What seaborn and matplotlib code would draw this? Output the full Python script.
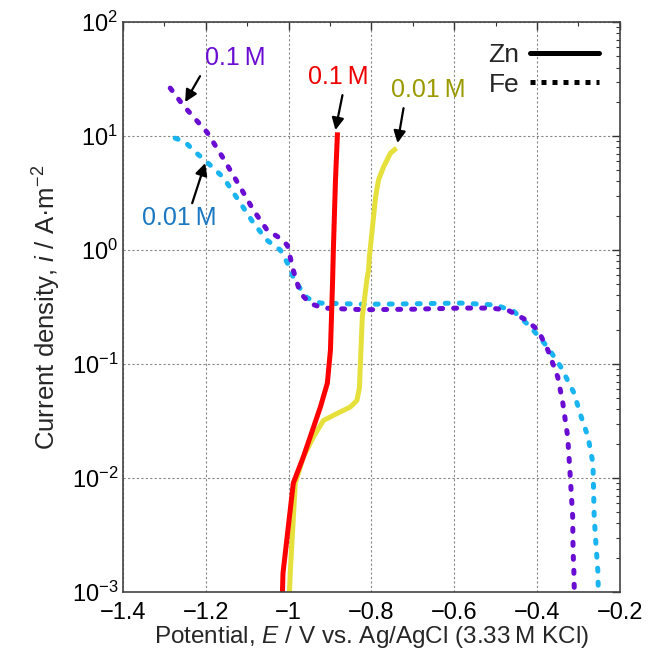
import numpy as np
import pandas as pd
import matplotlib
matplotlib.use("Agg")
import matplotlib.pyplot as plt
from matplotlib.lines import Line2D
from matplotlib.ticker import MultipleLocator, LogLocator, NullFormatter, FuncFormatter
import seaborn as sns

# Polarization curves: potential E (V vs. Ag/AgCl) and current density i (A/m^2)
fe_01_E = [-1.286, -1.255, -1.197, -1.158, -1.117, -1.085, -1.052, -1.025, -1.013,
           -1.003, -0.989, -0.972, -0.948, -0.916, -0.82, -0.70, -0.584, -0.512,
           -0.471, -0.432, -0.398, -0.374, -0.35, -0.338, -0.326, -0.319, -0.314,
           -0.313, -0.311, -0.310]
fe_01_i = [26.4, 18.7, 10.8, 6.4, 3.57, 2.24, 1.5, 1.3, 1.2,
           1.1, 0.67, 0.42, 0.34, 0.31, 0.30, 0.303, 0.31, 0.31,
           0.298, 0.25, 0.20, 0.133, 0.077, 0.046, 0.023, 0.0093, 0.0046,
           0.0023, 0.0015, 0.001]

fe_001_E = [-1.274, -1.25, -1.23, -1.197, -1.158, -1.117, -1.085, -1.052, -1.02,
            -1.003, -0.989, -0.972, -0.955, -0.923, -0.82, -0.70, -0.584, -0.50,
            -0.456, -0.415, -0.374, -0.343, -0.311, -0.294, -0.277, -0.265, -0.262,
            -0.258, -0.253, -0.252]
fe_001_i = [9.6, 8.9, 7.5, 5.9, 4.35, 2.6, 1.73, 1.22, 1.0,
            0.77, 0.58, 0.46, 0.38, 0.343, 0.335, 0.338, 0.343, 0.33,
            0.29, 0.21, 0.14, 0.095, 0.056, 0.035, 0.023, 0.0135, 0.0046,
            0.0027, 0.0015, 0.001]

zn_01_E = [-1.015, -1.0136, -0.9887, -0.9645, -0.9233, -0.9065, -0.899, -0.894,
           -0.892, -0.887, -0.882]
zn_01_i = [0.001, 0.00147, 0.00904, 0.0153, 0.042, 0.068, 0.133, 0.514,
           1.0, 4.0, 10.8]

zn_001_E = [-0.998, -0.996, -0.984, -0.9645, -0.94, -0.916, -0.882, -0.851, -0.835,
            -0.829, -0.827, -0.822, -0.811, -0.807, -0.805, -0.800, -0.795, -0.790,
            -0.783, -0.771, -0.754, -0.7395]
zn_001_i = [0.001, 0.0015, 0.009, 0.0153, 0.023, 0.032, 0.037, 0.042, 0.048,
            0.062, 0.095, 0.26, 0.55, 0.67, 0.87, 1.30, 1.95, 2.92,
            4.11, 5.35, 7.1, 7.85]

series_names = ["Fe 0.01 M", "Fe 0.1 M", "Zn 0.01 M", "Zn 0.1 M"]
series_E = [fe_001_E, fe_01_E, zn_001_E, zn_01_E]
series_i = [fe_001_i, fe_01_i, zn_001_i, zn_01_i]
line_colors = ["#1ab4f0", "#6a0dd2", "#e6e03c", "#ff0000"]
dashed = [True, True, False, False]

# Labels placed beside the curves
label_text = ["0.01\u2009M", "0.1\u2009M", "0.01\u2009M", "0.1\u2009M"]
label_colors = ["#1a78c2", "#6a0dd2", "#9a9a00", "#ee0000"]
label_xy = [(-1.264, 1.91), (-1.129, 48.0), (-0.662, 25.3), (-0.880, 33.0)]
arrow_tail = [(-1.233, 2.58), (-1.214, 33.6), (-0.7225, 17.6), (-0.870, 22.9)]
arrow_head = [(-1.2016, 5.8), (-1.25, 19.9), (-0.737, 8.7), (-0.887, 11.3)]

sns.set_theme(style="white")
plt.rcParams["font.family"] = ["Liberation Sans", "DejaVu Sans"]
plt.rcParams["mathtext.fontset"] = "custom"
plt.rcParams["mathtext.rm"] = "Liberation Sans"
plt.rcParams["mathtext.it"] = "Liberation Sans:italic"

fig = plt.figure(figsize=(6.52, 6.52), dpi=100)
ax = fig.add_axes([0.1887, 0.092, 0.762, 0.874])

frames = []
for name, E, i in zip(series_names, series_E, series_i):
    frames.append(pd.DataFrame({"E": E, "i": i, "series": name}))
df = pd.concat(frames, ignore_index=True)

for name, color, dash in zip(series_names, line_colors, dashed):
    sub = df[df["series"] == name]
    line_ax = sns.lineplot(data=sub, x="E", y="i", sort=False, ax=ax, color=color,
                           lw=3.6, estimator=None, legend=False)
    ln = line_ax.lines[-1]
    if dash:
        ln.set_dashes((0.6, 2.2))
        ln.set_dash_capstyle("round")
    ln.set_solid_capstyle("butt")
    ln.set_solid_joinstyle("round")

ax.set_yscale("log")
ax.set_xlim(-1.4, -0.2)
ax.set_ylim(1e-3, 1e2)

for txt, col, xy, tail, head in zip(label_text, label_colors, label_xy,
                                     arrow_tail, arrow_head):
    ax.text(xy[0], xy[1], txt, color=col, fontsize=18, ha="center", va="center")
    ax.annotate("", xy=head, xytext=tail,
                arrowprops=dict(arrowstyle="-|>,head_length=0.6,head_width=0.3",
                                color="black", lw=1.6, shrinkA=0, shrinkB=0))

# Grid and ticks
ax.grid(True, which="major", color="#888888", linestyle=(0, (2, 2)), lw=0.8)
ax.xaxis.set_major_locator(MultipleLocator(0.2))
ax.xaxis.set_minor_locator(MultipleLocator(0.1))
ax.yaxis.set_major_locator(LogLocator(base=10, numticks=10))
ax.yaxis.set_minor_locator(LogLocator(base=10, subs=np.arange(2, 10), numticks=20))
ax.yaxis.set_minor_formatter(NullFormatter())
ax.tick_params(which="both", direction="in", top=True, right=True, colors="#333333",
               labelcolor="black", labelsize=17)
ax.tick_params(axis="x", which="major", pad=7)
ax.tick_params(which="major", length=6, width=1)
ax.tick_params(which="minor", length=3, width=0.8)
ax.xaxis.set_major_formatter(
    FuncFormatter(lambda v, p: f"{v:.1f}".rstrip("0").rstrip(".").replace("-", "\u2212")))
for s in ax.spines.values():
    s.set_color("#444444")
    s.set_linewidth(1.2)

ax.set_xlabel("Potential, $E$ / V vs. Ag/AgCl (3.33\u2009M KCl)", fontsize=17.5, labelpad=0)
ax.set_ylabel("Current density, $i$ / A\u00b7m$^{\u22122}$", fontsize=18.5, labelpad=6)

handles = [Line2D([], [], color="black", lw=3.6),
           Line2D([], [], color="black", lw=3.6, dashes=(1.0, 1.2))]
ax.legend(handles, ["Zn", "Fe"], loc="upper right", frameon=False, markerfirst=False,
          fontsize=19, handlelength=2.6, handletextpad=0.4, labelspacing=0.2,
          borderaxespad=0.4)

fig.savefig("out.png", dpi=100)
